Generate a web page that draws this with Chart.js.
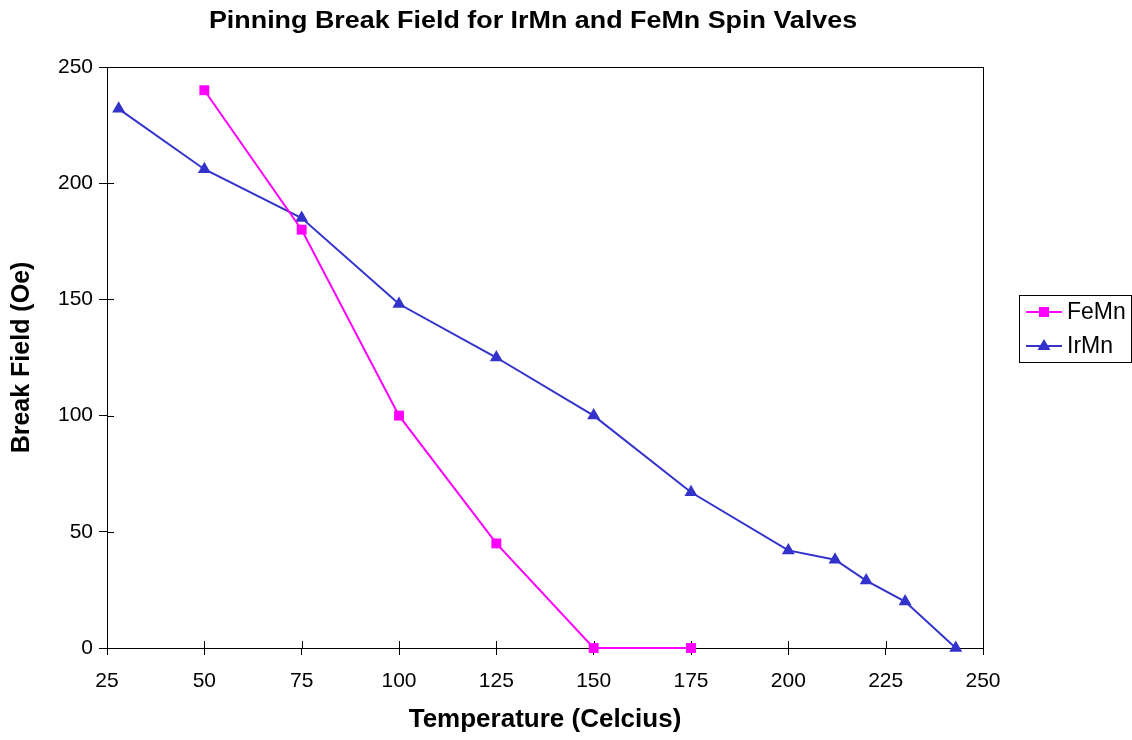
<!DOCTYPE html>
<html>
<head>
<meta charset="utf-8">
<script src="https://cdn.jsdelivr.net/npm/chart.js@4"></script>
<style>
html,body{margin:0;padding:0;background:#fff;}
#wrap{width:1132px;height:740px;position:relative;}
</style>
</head>
<body>
<div id="wrap"><canvas id="c" width="1132" height="740"></canvas></div>
<script>
const chartTitle = 'Pinning Break Field for IrMn and FeMn Spin Valves';
const xTitle = 'Temperature (Celcius)';
const yTitle = 'Break Field (Oe)';
const feMnTemps = [50, 75, 100, 125, 150, 175];
const feMnField = [240, 180, 100, 45, 0, 0];
const irMnTemps = [28, 50, 75, 100, 125, 150, 175, 200, 212, 220, 230, 243];
const irMnField = [232, 206, 185, 148, 125, 100, 67, 42, 38, 29, 20, 0];
const xTicks = [25, 50, 75, 100, 125, 150, 175, 200, 225, 250];
const yTicks = [0, 50, 100, 150, 200, 250];

const FONT = '"Liberation Sans", Arial, sans-serif';
const toPts = (xs, ys) => xs.map((x, i) => ({x: x, y: ys[i]}));

const framePlugin = {
  id: 'frame',
  beforeDatasetsDraw(chart) {
    const {ctx, chartArea: a, scales} = chart;
    ctx.save();
    ctx.strokeStyle = '#000';
    ctx.lineWidth = 1;
    ctx.strokeRect(Math.round(a.left) + 0.5, Math.round(a.top) + 0.5, Math.round(a.right - a.left), Math.round(a.bottom - a.top));
    ctx.beginPath();
    xTicks.forEach(v => {
      const px = Math.round(scales.x.getPixelForValue(v)) + 0.5;
      ctx.moveTo(px, a.bottom); ctx.lineTo(px, a.bottom - 7);
    });
    yTicks.forEach(v => {
      const py = Math.round(scales.y.getPixelForValue(v)) + 0.5;
      ctx.moveTo(a.left, py); ctx.lineTo(a.left + 7, py);
    });
    ctx.stroke();
    ctx.restore();
  },
  afterDraw(chart) {
    const ctx = chart.ctx;
    ctx.save();
    ctx.fillStyle = '#000';
    ctx.font = 'bold 24px ' + FONT;
    ctx.textAlign = 'center';
    ctx.textBaseline = 'middle';
    ctx.translate(533, 21);
    ctx.scale(1.12, 1);
    ctx.fillText(chartTitle, 0, 0);
    ctx.restore();
    ctx.save();
    const bx = 1019.5, by = 295.5, bw = 112, bh = 67;
    ctx.fillStyle = '#fff';
    ctx.fillRect(bx, by, bw, bh);
    ctx.strokeStyle = '#000';
    ctx.lineWidth = 1;
    ctx.strokeRect(bx, by, bw, bh);
    chart.data.datasets.forEach((ds, i) => {
      const cy = 312 + i * 34;
      ctx.strokeStyle = ds.borderColor;
      ctx.lineWidth = 2;
      ctx.beginPath(); ctx.moveTo(1026, cy); ctx.lineTo(1062, cy); ctx.stroke();
      ctx.fillStyle = ds.pointBackgroundColor;
      if (ds.pointStyle === 'rect') {
        ctx.fillRect(1044 - 5, cy - 5, 10, 10);
      } else {
        ctx.beginPath();
        ctx.moveTo(1044, cy - 7); ctx.lineTo(1050.5, cy + 4); ctx.lineTo(1037.5, cy + 4);
        ctx.closePath(); ctx.fill();
      }
      ctx.fillStyle = '#000';
      ctx.font = '23px ' + FONT;
      ctx.textAlign = 'left';
      ctx.textBaseline = 'middle';
      ctx.fillText(ds.label, 1067, cy + 1);
    });
    ctx.restore();
  }
};

new Chart(document.getElementById('c'), {
  type: 'scatter',
  data: {
    datasets: [
      {
        label: 'FeMn',
        data: toPts(feMnTemps, feMnField),
        showLine: true,
        borderColor: '#FF00FF',
        backgroundColor: '#FF00FF',
        pointBackgroundColor: '#FF00FF',
        pointBorderColor: '#FF00FF',
        borderWidth: 2,
        pointStyle: 'rect',
        pointRadius: 7,
        pointBorderWidth: 0,
        clip: false
      },
      {
        label: 'IrMn',
        data: toPts(irMnTemps, irMnField),
        showLine: true,
        borderColor: '#3333CC',
        backgroundColor: '#3333CC',
        pointBackgroundColor: '#3333CC',
        pointBorderColor: '#3333CC',
        borderWidth: 2,
        pointStyle: 'triangle',
        pointRadius: 7.5,
        pointBorderWidth: 0,
        clip: false
      }
    ]
  },
  options: {
    responsive: false,
    animation: false,
    devicePixelRatio: 1,
    layout: {padding: {top: 67, right: 149, left: 0, bottom: 0}},
    plugins: {legend: {display: false}, title: {display: false}, tooltip: {enabled: false}},
    scales: {
      x: {
        type: 'linear', min: 25, max: 250,
        afterFit(s) { s.height = 92; },
        afterBuildTicks(s) { s.ticks = xTicks.map(v => ({value: v})); },
        grid: {display: true, drawOnChartArea: false, drawTicks: true, tickLength: 7, color: '#000', tickColor: '#000'},
        border: {display: true, color: '#000'},
        ticks: {color: '#000', font: {family: FONT, size: 21}, padding: 14, maxRotation: 0},
        title: {display: true, text: xTitle, color: '#000', font: {family: FONT, size: 26, weight: 'bold'}, padding: {top: 0, bottom: 5}}
      },
      y: {
        type: 'linear', min: 0, max: 250,
        afterFit(s) { s.width = 107; },
        afterBuildTicks(s) { s.ticks = yTicks.map(v => ({value: v})); },
        grid: {display: true, drawOnChartArea: false, drawTicks: true, tickLength: 8, color: '#000', tickColor: '#000'},
        border: {display: true, color: '#000'},
        ticks: {color: '#000', font: {family: FONT, size: 21}, padding: 6},
        title: {display: true, text: yTitle, color: '#000', font: {family: FONT, size: 25, weight: 'bold'}, padding: {top: 7, bottom: 0}}
      }
    }
  },
  plugins: [framePlugin]
});
</script>
</body>
</html>
